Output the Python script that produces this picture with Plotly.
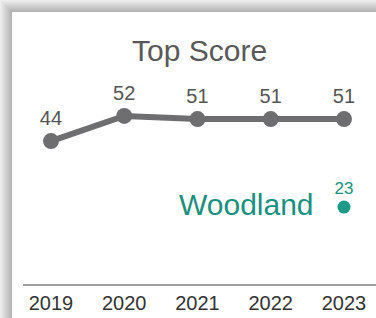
import plotly.graph_objects as go

years = [2019, 2020, 2021, 2022, 2023]
top_scores = [44, 52, 51, 51, 51]
woodland_year = [2023]
woodland_score = [23]
woodland_name = "Woodland"
title_text = "Top Score"

W, H = 376, 318
L, R, T, B = 23, 0, 0, 34
PW, PH = W - L - R, H - T - B

def px(x):
    return (x - L) / PW

def py(y):
    return 1 - (y - T) / PH

fig = go.Figure()
fig.add_trace(go.Scatter(
    x=years, y=top_scores, mode="lines+markers+text",
    text=[str(v) for v in top_scores], textposition="top center",
    textfont=dict(family="Liberation Sans, Arial", size=20, color="#555555"),
    line=dict(color="#6e6e70", width=6),
    marker=dict(color="#6e6e70", size=16),
    cliponaxis=False, hoverinfo="skip", showlegend=False,
))
fig.add_trace(go.Scatter(
    x=woodland_year, y=woodland_score, mode="markers+text",
    text=[str(v) for v in woodland_score], textposition="top center",
    textfont=dict(family="Liberation Sans, Arial", size=17, color="#1a9080"),
    marker=dict(color="#1a9a88", size=13),
    cliponaxis=False, hoverinfo="skip", showlegend=False,
))
fig.add_annotation(
    x=woodland_year[0], y=woodland_score[0], xref="x", yref="y",
    text=woodland_name, showarrow=False, xanchor="right", yanchor="middle",
    xshift=-28, yshift=3,
    font=dict(family="Liberation Sans, Arial", size=30, color="#1a9080"),
)
fig.add_annotation(
    x=px(199), y=py(51), xref="paper", yref="paper",
    text=title_text, showarrow=False, xanchor="center", yanchor="middle",
    font=dict(family="Liberation Sans, Arial", size=30, color="#595959"),
)

shapes = []
# card shadow: left and top strips
for i in range(12):
    t = i / 11.0
    g = int(238 - 58 * t)
    col = f"rgb({g},{g},{g})"
    shapes.append(dict(type="rect", xref="paper", yref="paper",
                       x0=px(i), x1=px(i + 1), y0=py(H), y1=py(min(i, 12)),
                       line=dict(width=0), fillcolor=col, layer="below"))
    shapes.append(dict(type="rect", xref="paper", yref="paper",
                       x0=px(min(i, 12)), x1=px(W), y0=py(i + 1), y1=py(i),
                       line=dict(width=0), fillcolor=col, layer="below"))
fig.update_layout(shapes=shapes)

fig.update_layout(
    width=W, height=H,
    margin=dict(l=L, r=R, t=T, b=B),
    paper_bgcolor="white", plot_bgcolor="rgba(0,0,0,0)",
    xaxis=dict(range=[2018.618, 2023.437], tickvals=years,
               ticktext=[str(y) for y in years],
               showgrid=False, zeroline=False, showline=True,
               linecolor="#a0a0a0", linewidth=2, ticks="",
               tickfont=dict(family="Liberation Sans, Arial", size=20, color="#333333"),
               fixedrange=True),
    yaxis=dict(range=[-1.5, 88.9], visible=False, fixedrange=True),
)

fig.write_html("out.html", config={"displayModeBar": False},
               post_script="document.body.style.margin='0';document.body.style.overflow='hidden';")
